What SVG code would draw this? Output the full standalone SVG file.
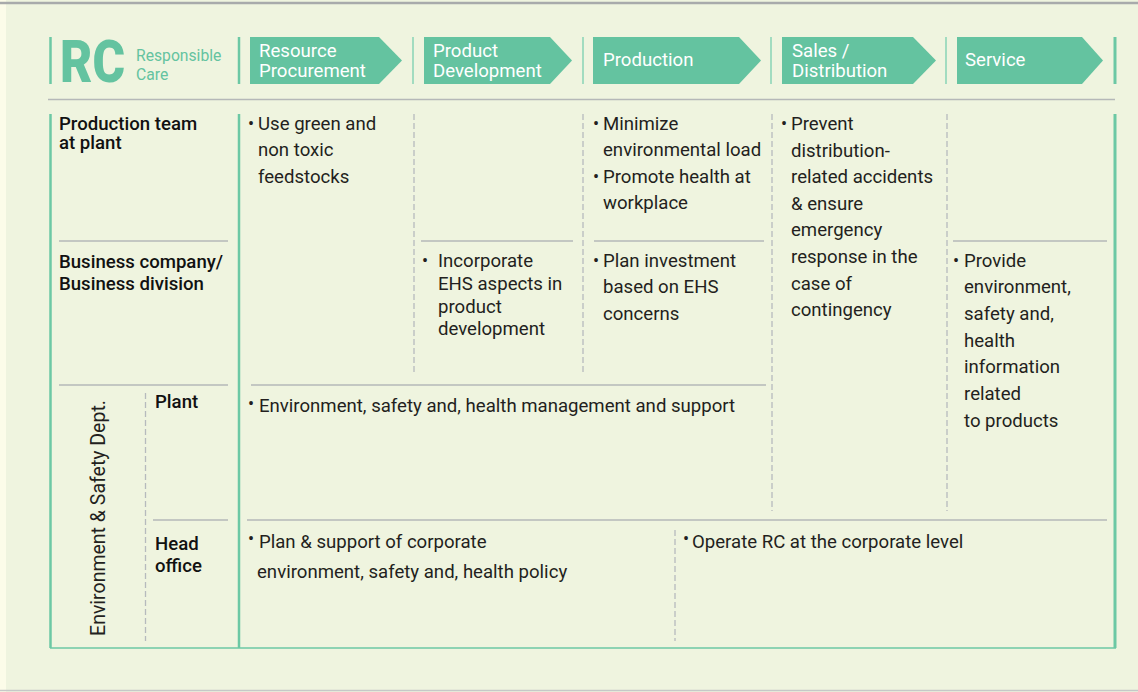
<svg xmlns="http://www.w3.org/2000/svg" width="1138" height="692" viewBox="0 0 1138 692">
<style>
.bg{fill:#eff4df}
.arrow{fill:#64c3a0}
.hd{font-family:Roboto,"Liberation Sans",sans-serif;font-size:18.6px;fill:#ffffff}
.t{font-family:Roboto,"Liberation Sans",sans-serif;font-size:18.6px;fill:#231f20}
.rh{font-family:Roboto,"Liberation Sans",sans-serif;font-size:18.6px;font-weight:500;fill:#111111}
.b{font-family:Roboto,"Liberation Sans",sans-serif;font-size:18px;fill:#231f20}
.sep{stroke:#8fd6b8;stroke-width:1.6}
.gl{stroke:#6cc8a4;fill:none}
.dash{stroke:#b6babd;stroke-width:1.3;stroke-dasharray:6 3;fill:none}
.hl{stroke:#b5b8b8;stroke-width:1.4;fill:none}
</style>
<rect x="0" y="0" width="1138" height="692" class="bg"/>
<rect x="0" y="0" width="6" height="692" fill="#fcfce9"/>
<line x1="0" y1="3" x2="1138" y2="3" stroke="#a8aaab" stroke-width="2.5"/>
<line x1="0" y1="690.5" x2="1138" y2="690.5" stroke="#c6c8c8" stroke-width="1.5"/>

<g id="rc-logo">
<line x1="50.5" y1="37" x2="50.5" y2="84" stroke="#6cc8a4" stroke-width="2.5"/>
<text x="60" y="82" font-family="Roboto,'Liberation Sans',sans-serif" font-size="60" font-weight="900" fill="#64c3a0" textLength="65" lengthAdjust="spacingAndGlyphs">RC</text>
<text x="136" y="61" font-family="Roboto,'Liberation Sans',sans-serif" font-size="15.7" fill="#64c3a0">Responsible</text>
<text x="136" y="80" font-family="Roboto,'Liberation Sans',sans-serif" font-size="15.7" fill="#64c3a0">Care</text>
</g>

<g id="header-separators">
<line x1="239" y1="37" x2="239" y2="84" stroke="#6cc8a4" stroke-width="2.5"/>
<line x1="413" y1="37" x2="413" y2="84" class="sep"/>
<line x1="583" y1="37" x2="583" y2="84" class="sep"/>
<line x1="771" y1="37" x2="771" y2="84" class="sep"/>
<line x1="946" y1="37" x2="946" y2="84" class="sep"/>
<line x1="1115" y1="37" x2="1115" y2="84" stroke="#6cc8a4" stroke-width="3"/>
</g>

<g id="stage-resource">
<polygon class="arrow" points="250,37 379,37 402,60.5 379,84 250,84"/>
<text class="hd" x="259" y="57">Resource</text>
<text class="hd" x="259" y="77">Procurement</text>
</g>
<g id="stage-product">
<polygon class="arrow" points="424,37 550,37 572,60.5 550,84 424,84"/>
<text class="hd" x="433" y="57">Product</text>
<text class="hd" x="433" y="77">Development</text>
</g>
<g id="stage-production">
<polygon class="arrow" points="593,37 739,37 761,60.5 739,84 593,84"/>
<text class="hd" x="603" y="66">Production</text>
</g>
<g id="stage-sales">
<polygon class="arrow" points="782,37 913,37 936,60.5 913,84 782,84"/>
<text class="hd" x="792" y="57">Sales /</text>
<text class="hd" x="792" y="77">Distribution</text>
</g>
<g id="stage-service">
<polygon class="arrow" points="957,37 1082,37 1103,60.5 1082,84 957,84"/>
<text class="hd" x="965" y="66">Service</text>
</g>

<g id="grid">
<line x1="48" y1="99.5" x2="1115" y2="99.5" class="hl"/>
<line x1="50.5" y1="114" x2="50.5" y2="648" class="gl" stroke-width="2.5"/>
<line x1="239" y1="114" x2="239" y2="648" class="gl" stroke-width="2.5"/>
<line x1="1115" y1="114" x2="1115" y2="648" class="gl" stroke-width="3"/>
<line x1="50" y1="648" x2="1116" y2="648" class="gl" stroke-width="1.6"/>
<line x1="414" y1="114" x2="414" y2="373" class="dash"/>
<line x1="583" y1="114" x2="583" y2="373" class="dash"/>
<line x1="772" y1="114" x2="772" y2="511" class="dash"/>
<line x1="947" y1="114" x2="947" y2="511" class="dash"/>
<line x1="145.5" y1="393" x2="145.5" y2="641" class="dash"/>
<line x1="675" y1="530" x2="675" y2="641" class="dash"/>
<line x1="59" y1="241" x2="228" y2="241" class="hl"/>
<line x1="421" y1="241" x2="573" y2="241" class="hl"/>
<line x1="594" y1="241" x2="764" y2="241" class="hl"/>
<line x1="953" y1="241" x2="1107" y2="241" class="hl"/>
<line x1="59" y1="385" x2="228" y2="385" class="hl"/>
<line x1="251" y1="385" x2="766" y2="385" class="hl"/>
<line x1="153" y1="520" x2="228" y2="520" class="hl"/>
<line x1="247" y1="520" x2="1107" y2="520" class="hl"/>
</g>

<g id="row-production-team">
<text class="rh" x="59" y="130">Production team</text>
<text class="rh" x="59" y="148.5">at plant</text>
</g>
<g id="row-business">
<text class="rh" x="59" y="268">Business company/</text>
<text class="rh" x="59" y="290">Business division</text>
</g>
<g id="row-ehs-dept">
<text class="t" transform="translate(105,518) rotate(-90)" text-anchor="middle" style="font-size:19.5px">Environment &amp; Safety Dept.</text>
</g>
<g id="row-plant">
<text class="rh" x="155" y="408">Plant</text>
</g>
<g id="row-head-office">
<text class="rh" x="155" y="550">Head</text>
<text class="rh" x="155" y="572">office</text>
</g>

<g id="cell-resource">
<text class="b" x="248" y="130">•</text>
<text class="t" x="258" y="130">Use green and</text>
<text class="t" x="258" y="156">non toxic</text>
<text class="t" x="258" y="183">feedstocks</text>
</g>
<g id="cell-product">
<text class="b" x="422" y="267">•</text>
<text class="t" x="438" y="267">Incorporate</text>
<text class="t" x="438" y="290">EHS aspects in</text>
<text class="t" x="438" y="313">product</text>
<text class="t" x="438" y="335">development</text>
</g>
<g id="cell-production-plant">
<text class="b" x="593" y="130">•</text>
<text class="t" x="603" y="130">Minimize</text>
<text class="t" x="603" y="156">environmental load</text>
<text class="b" x="593" y="183">•</text>
<text class="t" x="603" y="183">Promote health at</text>
<text class="t" x="603" y="209">workplace</text>
</g>
<g id="cell-production-business">
<text class="b" x="593" y="267">•</text>
<text class="t" x="603" y="267">Plan investment</text>
<text class="t" x="603" y="293">based on EHS</text>
<text class="t" x="603" y="320">concerns</text>
</g>
<g id="cell-sales">
<text class="b" x="781" y="130">•</text>
<text class="t" x="791" y="130">Prevent</text>
<text class="t" x="791" y="157">distribution-</text>
<text class="t" x="791" y="183">related accidents</text>
<text class="t" x="791" y="210">&amp; ensure</text>
<text class="t" x="791" y="236">emergency</text>
<text class="t" x="791" y="263">response in the</text>
<text class="t" x="791" y="290">case of</text>
<text class="t" x="791" y="316">contingency</text>
</g>
<g id="cell-service">
<text class="b" x="953" y="267">•</text>
<text class="t" x="964" y="267">Provide</text>
<text class="t" x="964" y="293">environment,</text>
<text class="t" x="964" y="320">safety and,</text>
<text class="t" x="964" y="347">health</text>
<text class="t" x="964" y="373">information</text>
<text class="t" x="964" y="400">related</text>
<text class="t" x="964" y="427">to products</text>
</g>
<g id="cell-plant">
<text class="b" x="248" y="410">•</text>
<text class="t" x="259" y="412">Environment, safety and, health management and support</text>
</g>
<g id="cell-head-office">
<text class="b" x="248" y="545">•</text>
<text class="t" x="259" y="548">Plan &amp; support of corporate</text>
<text class="t" x="257" y="578">environment, safety and, health policy</text>
</g>
<g id="cell-operate">
<text class="b" x="683" y="545">•</text>
<text class="t" x="692" y="548">Operate RC at the corporate level</text>
</g>
</svg>
